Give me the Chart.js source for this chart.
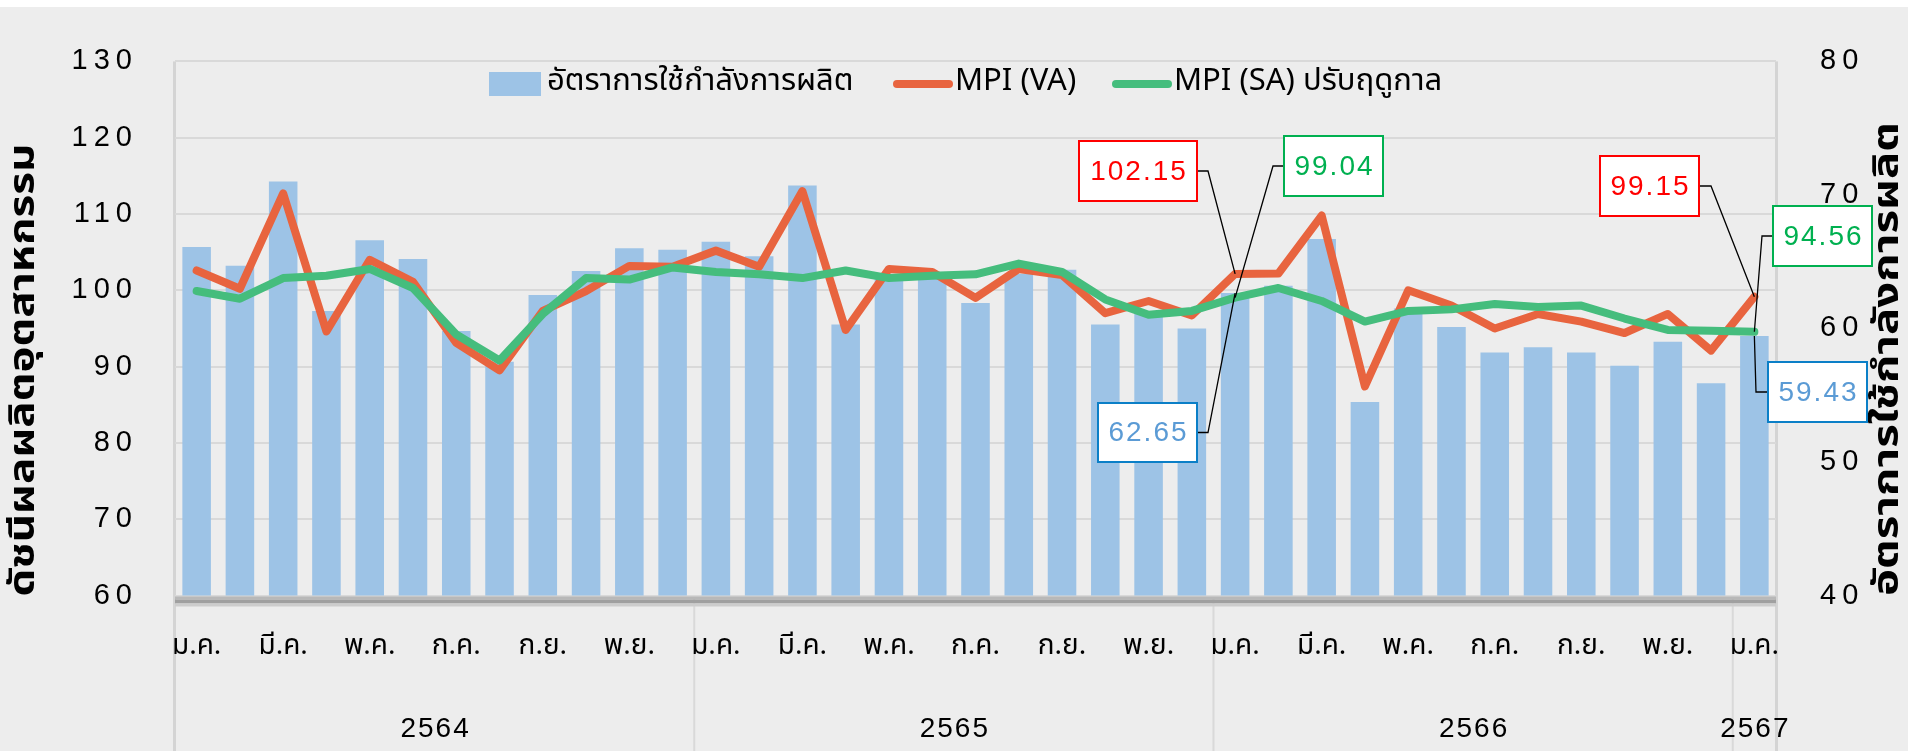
<!DOCTYPE html>
<html>
<head>
<meta charset="utf-8">
<script src="https://cdn.jsdelivr.net/npm/chart.js@4.4.1/dist/chart.umd.min.js"></script>
<style>
  html, body { margin: 0; padding: 0; background: #fff; }
  #wrap { width: 1908px; height: 751px; }
</style>
</head>
<body>
<div id="wrap"><canvas id="chart" width="1908" height="751"></canvas></div>
<script>
// ---- data ---------------------------------------------------------------
const monthNames = ['ม.ค.', 'ก.พ.', 'มี.ค.', 'เม.ย.', 'พ.ค.', 'มิ.ย.', 'ก.ค.', 'ส.ค.', 'ก.ย.', 'ต.ค.', 'พ.ย.', 'ธ.ค.'];
const yearLabels = ['2564', '2565', '2566', '2567'];
const monthsInYear = [12, 12, 12, 1];

// อัตราการใช้กำลังการผลิต (แกนขวา, %)
const capacity = [
  66.1, 64.7, 71.0, 61.3, 66.6, 65.2, 59.8, 57.5, 62.5, 64.3, 66.0, 65.9,
  66.5, 65.4, 70.7, 60.3, 63.9, 64.0, 61.9, 64.1, 64.4, 60.3, 61.3, 60.0,
  62.65, 63.2, 66.7, 54.5, 61.5, 60.1, 58.2, 58.6, 58.2, 57.2, 59.0, 55.9,
  59.43
];
// MPI (VA)
const mpiVA = [
  102.6, 100.2, 112.7, 94.6, 104.0, 101.1, 93.1, 89.5, 97.3, 99.9, 103.2, 103.1,
  105.2, 103.1, 113.0, 94.8, 102.8, 102.4, 99.0, 102.8, 102.0, 97.0, 98.6, 96.7,
  102.15, 102.2, 109.8, 87.4, 100.0, 98.0, 95.0, 96.9, 95.9, 94.4, 96.9, 92.1,
  99.15
];
// MPI (SA) ปรับฤดูกาล
const mpiSA = [
  99.9, 98.9, 101.6, 101.9, 102.8, 100.3, 94.2, 90.8, 96.9, 101.6, 101.4, 103.0,
  102.4, 102.1, 101.6, 102.6, 101.6, 101.9, 102.1, 103.5, 102.4, 98.8, 96.8, 97.3,
  99.04, 100.3, 98.6, 95.9, 97.3, 97.5, 98.2, 97.8, 98.0, 96.3, 94.8, 94.7,
  94.56
];

const categories = yearLabels.flatMap((y, k) =>
  monthNames.slice(0, monthsInYear[k]).map((m) => `${m} ${y}`));

const legendLabels = ['อัตราการใช้กำลังการผลิต', 'MPI (VA)', 'MPI (SA) ปรับฤดูกาล'];
const leftTitle = 'ดัชนีผลผลิตอุตสาหกรรม';
const rightTitle = 'อัตราการใช้กำลังการผลิต';

// ---- look ---------------------------------------------------------------
const THAI = "'Noto Sans Thai','Noto Sans Thai UI','Loma','Garuda','Sawasdee','Tlwg Typist','Noto Sans',sans-serif";
const NUM = "'Liberation Sans',Arial,sans-serif";
const C_BAR = '#9DC3E6';
const C_VA = '#E8643F';
const C_SA = '#45BD7D';
const C_GRID = '#D9D9D9';

// callout boxes: which point, where the box sits, colours
const callouts = [
  { ds: 1, index: 24, box: [1079, 141, 118, 60], elbowX: 1208, side: 'right', border: '#FF0000', text: '#FF0000' },
  { ds: 2, index: 24, box: [1284, 136, 99, 60], elbowX: 1273, side: 'left', border: '#00B050', text: '#00B050' },
  { ds: 0, index: 24, box: [1098, 403, 99, 59], elbowX: 1208, side: 'right', border: '#0B7FC7', text: '#5B9BD5' },
  { ds: 1, index: 36, box: [1600, 156, 99, 60], elbowX: 1711, side: 'right', border: '#FF0000', text: '#FF0000' },
  { ds: 2, index: 36, box: [1773, 206, 99, 60], elbowX: 1762, side: 'left', border: '#00B050', text: '#00B050' },
  { ds: 0, index: 36, box: [1768, 362, 99, 60], elbowX: 1756, side: 'left', border: '#0B7FC7', text: '#5B9BD5' },
];

function spaced(scale, px) {
  if (!scale || scale._spaced) return;
  const orig = scale.drawLabels;
  scale.drawLabels = function (area) {
    this.ctx.save();
    this.ctx.letterSpacing = px;
    orig.call(this, area);
    this.ctx.restore();
  };
  scale._spaced = true;
}

// rotated, horizontally stretched axis title
function sideTitle(ctx, text, cx, cy, length) {
  ctx.save();
  ctx.font = `bold 36px ${THAI}`;
  ctx.textAlign = 'center';
  ctx.textBaseline = 'middle';
  ctx.fillStyle = '#000';
  const w = ctx.measureText(text).width;
  ctx.translate(cx, cy);
  ctx.rotate(-Math.PI / 2);
  ctx.scale(length / w, 1);
  ctx.fillText(text, 0, 0);
  ctx.restore();
}

const decor = {
  id: 'decor',
  beforeDraw(chart) {
    const { ctx, width, height, chartArea: a, scales: { x } } = chart;
    ctx.save();
    ctx.fillStyle = '#ffffff';
    ctx.fillRect(0, 0, width, height);
    ctx.fillStyle = '#EDEDED';
    ctx.fillRect(0, 7, width, height - 7);
    // plot side borders
    ctx.fillStyle = '#D4D4D4';
    ctx.fillRect(a.left - 2, a.top, 3, height - a.top);
    ctx.fillRect(a.right - 1, a.top, 3, height - a.top);
    // year separators
    ctx.fillStyle = C_GRID;
    let k = 0;
    monthsInYear.forEach((n, i) => {
      k += n;
      if (i < monthsInYear.length - 1) {
        const bx = (x.getPixelForValue(k - 1) + x.getPixelForValue(k)) / 2;
        ctx.fillRect(bx - 1, a.bottom, 2, height - a.bottom);
      }
    });
    ctx.restore();
    spaced(chart.scales.y, '6px');
    spaced(chart.scales.y1, '6px');
  },
  afterDatasetsDraw(chart) {
    const { ctx, chartArea: a } = chart;
    ctx.save();
    // bottom axis band
    ctx.fillStyle = '#B8B8B8';
    ctx.fillRect(a.left, a.bottom + 1, a.right - a.left, 3);
    ctx.fillStyle = '#A0A0A0';
    ctx.fillRect(a.left, a.bottom + 4, a.right - a.left, 4);
    ctx.fillStyle = '#CDCDCD';
    ctx.fillRect(a.left, a.bottom + 8, a.right - a.left, 3);
    ctx.restore();
  },
  afterDraw(chart) {
    const { ctx, chartArea: a, scales: { x } } = chart;
    ctx.save();

    // year labels
    ctx.font = `28px ${NUM}`;
    ctx.letterSpacing = '2px';
    ctx.fillStyle = '#000';
    ctx.textAlign = 'center';
    ctx.textBaseline = 'middle';
    let start = 0;
    monthsInYear.forEach((n, i) => {
      const l = start === 0 ? a.left : (x.getPixelForValue(start - 1) + x.getPixelForValue(start)) / 2;
      const end = start + n;
      const r = end >= categories.length ? a.right : (x.getPixelForValue(end - 1) + x.getPixelForValue(end)) / 2;
      ctx.fillText(yearLabels[i], (l + r) / 2 + 1, 729);
      start = end;
    });
    ctx.letterSpacing = '0px';

    // axis titles
    sideTitle(ctx, leftTitle, 27, 370, 453);
    sideTitle(ctx, rightTitle, 1891, 359, 474);

    // legend
    ctx.font = `31px ${THAI}`;
    ctx.textAlign = 'left';
    ctx.textBaseline = 'middle';
    const ly = 84;
    ctx.fillStyle = C_BAR;
    ctx.fillRect(489, ly - 12, 52, 24);
    ctx.fillStyle = '#000';
    ctx.fillText(legendLabels[0], 547, ly);
    [[C_VA, legendLabels[1], 893], [C_SA, legendLabels[2], 1112]].forEach(([c, t, lx]) => {
      ctx.strokeStyle = c;
      ctx.lineWidth = 8;
      ctx.lineCap = 'round';
      ctx.beginPath();
      ctx.moveTo(lx + 4, ly);
      ctx.lineTo(lx + 56, ly);
      ctx.stroke();
      ctx.fillStyle = '#000';
      ctx.fillText(t, lx + 62, ly);
    });

    // callouts
    callouts.forEach((c) => {
      const el = chart.getDatasetMeta(c.ds).data[c.index];
      const value = chart.data.datasets[c.ds].data[c.index];
      const [bx, by, bw, bh] = c.box;
      const ey = by + bh / 2;
      const edge = c.side === 'right' ? bx + bw : bx;
      ctx.strokeStyle = '#000';
      ctx.lineWidth = 1.3;
      ctx.lineCap = 'butt';
      ctx.beginPath();
      ctx.moveTo(edge, ey);
      ctx.lineTo(c.elbowX, ey);
      ctx.lineTo(el.x, el.y);
      ctx.stroke();
      ctx.fillStyle = '#fff';
      ctx.fillRect(bx, by, bw, bh);
      ctx.strokeStyle = c.border;
      ctx.lineWidth = 2;
      ctx.strokeRect(bx, by, bw, bh);
      ctx.fillStyle = c.text;
      ctx.font = `28px ${NUM}`;
      ctx.letterSpacing = '2px';
      ctx.textAlign = 'center';
      ctx.fillText(value.toFixed(2), bx + bw / 2 + 1, ey + 1);
      ctx.letterSpacing = '0px';
    });

    ctx.restore();
  }
};

new Chart(document.getElementById('chart'), {
  data: {
    labels: categories,
    datasets: [
      {
        type: 'bar', label: legendLabels[0], data: capacity, yAxisID: 'y1',
        backgroundColor: C_BAR, categoryPercentage: 1, barPercentage: 0.66, order: 3,
      },
      {
        type: 'line', label: legendLabels[1], data: mpiVA, yAxisID: 'y',
        borderColor: C_VA, borderWidth: 8, pointRadius: 0, tension: 0,
        borderJoinStyle: 'round', borderCapStyle: 'round', order: 2,
      },
      {
        type: 'line', label: legendLabels[2], data: mpiSA, yAxisID: 'y',
        borderColor: C_SA, borderWidth: 8, pointRadius: 0, tension: 0,
        borderJoinStyle: 'round', borderCapStyle: 'round', order: 1,
      },
    ],
  },
  options: {
    responsive: false,
    animation: false,
    layout: { padding: 0 },
    plugins: { legend: { display: false }, tooltip: { enabled: false } },
    scales: {
      x: {
        offset: true,
        grid: { display: false },
        border: { display: false },
        ticks: {
          autoSkip: false, maxRotation: 0, minRotation: 0,
          color: '#000', font: { family: THAI, size: 28 }, padding: 28,
          callback: (v, i) => (i % 2 === 0 ? monthNames[i % 12] : ''),
        },
        afterFit: (s) => { s.height = 155.5; },
      },
      y: {
        position: 'left', min: 60, max: 130,
        ticks: { stepSize: 10, color: '#000', font: { family: NUM, size: 29 }, padding: 37 },
        grid: { color: C_GRID, lineWidth: 2, drawTicks: false },
        border: { display: false },
        afterFit: (s) => { s.width = 175; },
      },
      y1: {
        position: 'right', min: 40, max: 80,
        ticks: { stepSize: 10, color: '#000', font: { family: NUM, size: 29 }, padding: 44 },
        grid: { display: false, drawTicks: false },
        border: { display: false },
        afterFit: (s) => { s.width = 132; },
      },
    },
  },
  plugins: [decor],
});
</script>
</body>
</html>
